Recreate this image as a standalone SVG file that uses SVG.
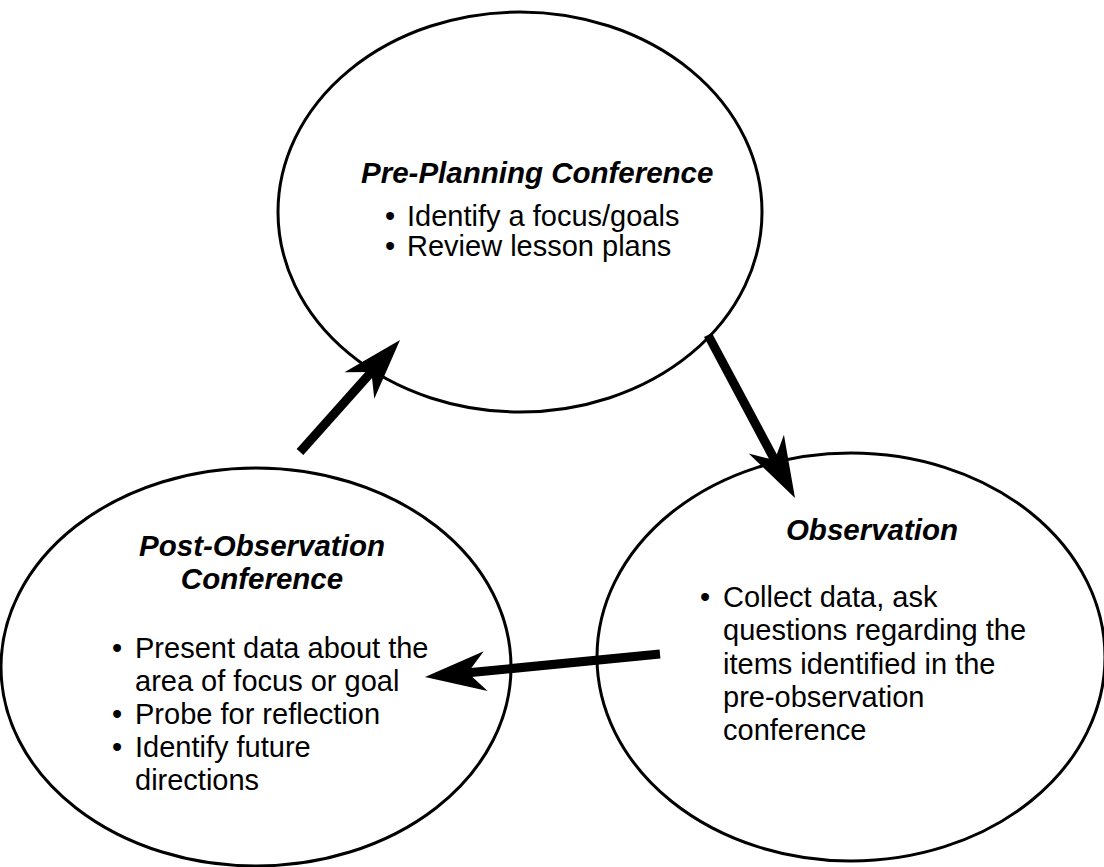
<svg xmlns="http://www.w3.org/2000/svg" width="1104" height="867" viewBox="0 0 1104 867">
  <style>
    .stage { fill: #ffffff; stroke: #000000; stroke-width: 3; }
    .title { font-family: "Liberation Sans", Arial, sans-serif; font-size: 29.5px; font-weight: bold; font-style: italic; fill: #000000; }
    .item { font-family: "Liberation Sans", Arial, sans-serif; font-size: 29px; fill: #000000; }
    .flow { fill: none; stroke: #000000; stroke-width: 9; marker-end: url(#head); }
  </style>
  <defs>
    <!-- notched arrowhead; origin sits where the shaft ends -->
    <marker id="head" markerUnits="userSpaceOnUse" viewBox="-22 -22 66 44" markerWidth="66" markerHeight="44" refX="0" refY="0" orient="auto" overflow="visible">
      <path d="M41,0 L-20,-20 L-2,0 L-20,20 Z" fill="#000000"/>
    </marker>
  </defs>

  <rect width="1104" height="867" fill="#ffffff"/>

  <g id="pre-planning">
    <ellipse class="stage" cx="520" cy="212" rx="242" ry="200"/>
    <text class="title" x="361" y="183">Pre-Planning Conference</text>
    <text class="item" x="385" y="226">•</text>
    <text class="item" x="407" y="226">Identify a focus/goals</text>
    <text class="item" x="385" y="256">•</text>
    <text class="item" x="407" y="256">Review lesson plans</text>
  </g>

  <g id="observation">
    <ellipse class="stage" cx="851" cy="657" rx="254" ry="204"/>
    <text class="title" x="872" y="540" text-anchor="middle">Observation</text>
    <text class="item" x="700" y="607">•</text>
    <text class="item" x="723" y="607">Collect data, ask</text>
    <text class="item" x="723" y="640">questions regarding the</text>
    <text class="item" x="723" y="674">items identified in the</text>
    <text class="item" x="723" y="707">pre-observation</text>
    <text class="item" x="723" y="740">conference</text>
  </g>

  <g id="post-observation">
    <ellipse class="stage" cx="256" cy="667" rx="255" ry="199"/>
    <text class="title" x="262" y="556" text-anchor="middle">Post-Observation</text>
    <text class="title" x="262" y="589" text-anchor="middle">Conference</text>
    <text class="item" x="112" y="658">•</text>
    <text class="item" x="135" y="658">Present data about the</text>
    <text class="item" x="135" y="691">area of focus or goal</text>
    <text class="item" x="112" y="724">•</text>
    <text class="item" x="135" y="724">Probe for reflection</text>
    <text class="item" x="112" y="757">•</text>
    <text class="item" x="135" y="757">Identify future</text>
    <text class="item" x="135" y="790">directions</text>
  </g>

  <g id="connectors">
    <path class="flow" d="M300,452 L372.7,370.6"/>
    <path class="flow" d="M708,335 L775.7,461.8"/>
    <path class="flow" d="M660,654 L465.8,673"/>
  </g>
</svg>
